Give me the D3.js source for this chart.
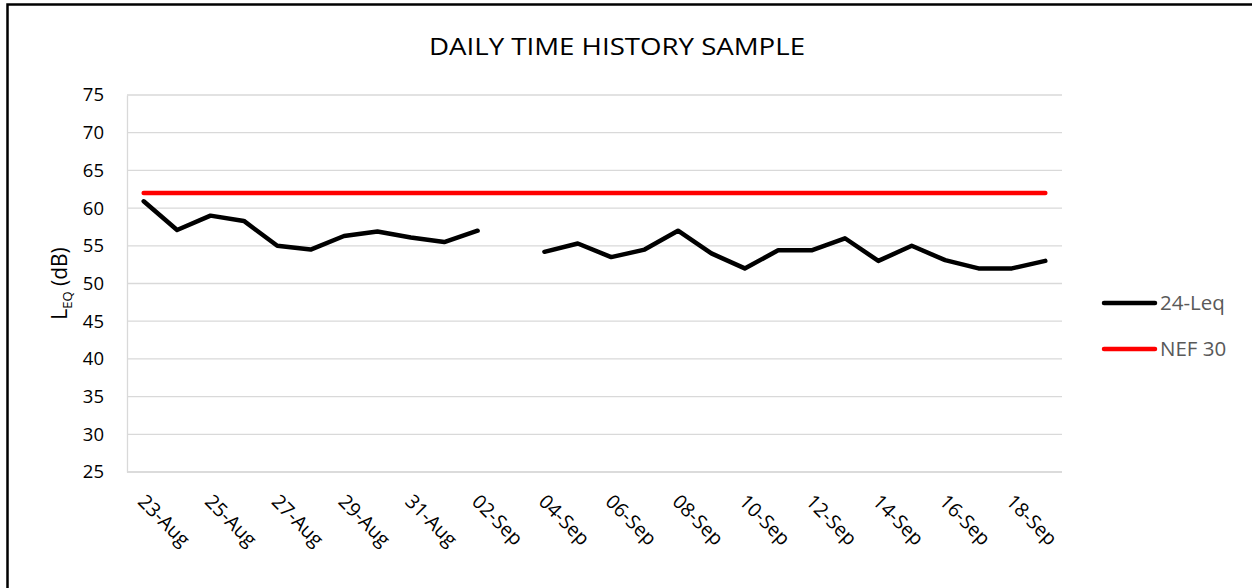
<!DOCTYPE html>
<html>
<head>
<meta charset="utf-8">
<script src="https://cdn.jsdelivr.net/npm/d3@7"></script>
<style>
  html, body { margin: 0; padding: 0; background: #fff; }
  svg { display: block; font-family: "Open Sans", "Noto Sans", sans-serif; }
</style>
</head>
<body>
<svg id="chart" width="1252" height="588"></svg>
<script>
// Days on the category axis (one per day, every other one labelled)
const days = ["23-Aug","24-Aug","25-Aug","26-Aug","27-Aug","28-Aug","29-Aug","30-Aug","31-Aug","01-Sep",
              "02-Sep","03-Sep","04-Sep","05-Sep","06-Sep","07-Sep","08-Sep","09-Sep","10-Sep","11-Sep",
              "12-Sep","13-Sep","14-Sep","15-Sep","16-Sep","17-Sep","18-Sep","19-Sep"];

// 24-hour Leq per day (null = no measurement)
const leq24 = [60.9, 57.1, 59.0, 58.3, 55.0, 54.5, 56.3, 56.9, 56.1, 55.5,
               57.0, null, 54.2, 55.3, 53.5, 54.5, 57.0, 54.0, 52.0, 54.4,
               54.4, 56.0, 53.0, 55.0, 53.1, 52.0, 52.0, 53.0];

// NEF 30 reference level
const nef30 = days.map(() => 62);

const yTicks = [25, 30, 35, 40, 45, 50, 55, 60, 65, 70, 75];
const xLabels = days.filter((d, i) => i % 2 === 0);

const svg = d3.select("#chart");
const margin = { top: 95, left: 127, right: 190, bottom: 116 };
const width = 1252 - margin.left - margin.right;
const height = 588 - margin.top - margin.bottom;

// outer chart border (runs off the right and bottom edges)
svg.append("rect")
    .attr("x", 7.5).attr("y", 4.5)
    .attr("width", 1260).attr("height", 600)
    .attr("fill", "none")
    .attr("stroke", "#000")
    .attr("stroke-width", 2.5);

svg.append("text")
    .attr("x", 617).attr("y", 55)
    .attr("text-anchor", "middle")
    .attr("font-size", 24)
    .attr("textLength", 376)
    .attr("lengthAdjust", "spacingAndGlyphs")
    .attr("fill", "#000")
    .text("DAILY TIME HISTORY SAMPLE");

const g = svg.append("g")
    .attr("transform", `translate(${margin.left},${margin.top})`);

const x = d3.scaleBand()
    .domain(days)
    .range([0, width]);

const y = d3.scaleLinear()
    .domain([25, 75])
    .range([height, 0]);

const cx = d => x(d) + x.bandwidth() / 2;

// gridlines
g.append("g")
    .selectAll("line")
    .data(yTicks)
    .enter()
    .append("line")
    .attr("x1", 0).attr("x2", width)
    .attr("y1", d => y(d)).attr("y2", d => y(d))
    .attr("stroke", "#d9d9d9")
    .attr("stroke-width", 1.3);

// y axis
const yAxis = g.append("g")
    .call(d3.axisLeft(y).tickValues(yTicks).tickSize(0).tickPadding(23));
yAxis.select(".domain").attr("stroke", "#d9d9d9").attr("stroke-width", 1.3);
yAxis.selectAll("text")
    .attr("font-size", 18.5)
    .attr("font-family", "'Open Sans', sans-serif")
    .attr("fill", "#000");

// x axis line
g.append("line")
    .attr("x1", 0).attr("x2", width)
    .attr("y1", height).attr("y2", height)
    .attr("stroke", "#d9d9d9")
    .attr("stroke-width", 1.3);

// rotated day labels
g.append("g")
    .selectAll("text")
    .data(xLabels)
    .enter()
    .append("text")
    .attr("transform", d => `translate(${cx(d) - 2},${height + 26}) rotate(45)`)
    .attr("dy", "0.35em")
    .attr("font-size", 19.5)
    .attr("fill", "#000")
    .text(d => d);

// y axis title: L_EQ (dB)
const yTitle = svg.append("text")
    .attr("transform", `translate(67,${margin.top + height / 2}) rotate(-90)`)
    .attr("text-anchor", "middle")
    .attr("font-size", 21)
    .attr("fill", "#000");
yTitle.append("tspan").text("L");
yTitle.append("tspan").attr("font-size", 13).attr("dy", 5).text("EQ");
yTitle.append("tspan").attr("dy", -5).text(" (dB)");

const line = d3.line()
    .defined(d => d.v !== null)
    .x(d => cx(d.day))
    .y(d => y(d.v));

// NEF 30
g.append("path")
    .datum(days.map((day, i) => ({ day: day, v: nef30[i] })))
    .attr("d", line)
    .attr("fill", "none")
    .attr("stroke", "#ff0000")
    .attr("stroke-width", 4.5)
    .attr("stroke-linecap", "round");

// 24-Leq
g.append("path")
    .datum(days.map((day, i) => ({ day: day, v: leq24[i] })))
    .attr("d", line)
    .attr("fill", "none")
    .attr("stroke", "#000")
    .attr("stroke-width", 4.5)
    .attr("stroke-linecap", "round")
    .attr("stroke-linejoin", "round");

// legend
const legend = [
    { name: "24-Leq", color: "#000", y: 303 },
    { name: "NEF 30", color: "#ff0000", y: 349 }
];
const lg = svg.append("g")
    .selectAll("g")
    .data(legend)
    .enter()
    .append("g");
lg.append("line")
    .attr("x1", 1104).attr("x2", 1155)
    .attr("y1", d => d.y).attr("y2", d => d.y)
    .attr("stroke", d => d.color)
    .attr("stroke-width", 4.5)
    .attr("stroke-linecap", "round");
lg.append("text")
    .attr("x", 1160).attr("y", d => d.y)
    .attr("dy", "0.35em")
    .attr("font-size", 20.5)
    .attr("fill", "#595959")
    .text(d => d.name);
</script>
</body>
</html>
